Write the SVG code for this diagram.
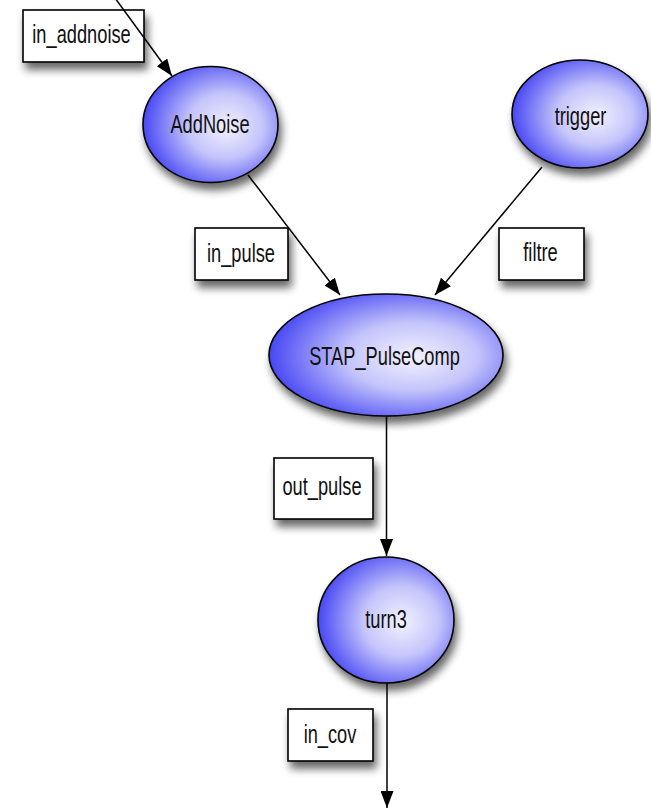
<svg xmlns="http://www.w3.org/2000/svg" width="651" height="809" viewBox="0 0 651 809">
  <defs>
    <radialGradient id="nodeFill" cx="0.6" cy="0.5" r="0.62" fx="0.62" fy="0.52">
      <stop offset="0" stop-color="#f2f2ff"/>
      <stop offset="0.45" stop-color="#c4c4fb"/>
      <stop offset="1" stop-color="#4040f4"/>
    </radialGradient>
    <filter id="shadow" x="-30%" y="-30%" width="160%" height="180%">
      <feGaussianBlur in="SourceAlpha" stdDeviation="4"/>
      <feOffset dx="3" dy="7" result="b"/>
      <feComponentTransfer><feFuncA type="linear" slope="0.6"/></feComponentTransfer>
      <feMerge><feMergeNode/><feMergeNode in="SourceGraphic"/></feMerge>
    </filter>
    <marker id="arrow" markerUnits="userSpaceOnUse" markerWidth="17" markerHeight="13" refX="17" refY="6.5" orient="auto">
      <path d="M0,0 L17,6.5 L0,13 z" fill="#000"/>
    </marker>
  </defs>
  <style>
    .node ellipse { fill: url(#nodeFill); stroke: #000; stroke-width: 1.6; filter: url(#shadow); }
    .port rect { fill: #fff; stroke: #000; stroke-width: 1.6; filter: url(#shadow); }
    text { font-family: "Liberation Sans", Arial, sans-serif; font-size: 25px; fill: #111; text-anchor: middle; }
    #connectors line { stroke: #000; stroke-width: 1.5; marker-end: url(#arrow); }
  </style>

  <!-- edge labels (ports) -->
  <g id="port-in_addnoise" class="port">
    <rect x="23" y="10" width="121" height="52"/>
    <text transform="translate(81.5,43) scale(0.73,1)">in_addnoise</text>
  </g>
  <g id="port-in_pulse" class="port">
    <rect x="195" y="228" width="93" height="52"/>
    <text transform="translate(241,262) scale(0.73,1)">in_pulse</text>
  </g>
  <g id="port-filtre" class="port">
    <rect x="499" y="228" width="85" height="52"/>
    <text transform="translate(540.5,261) scale(0.73,1)">filtre</text>
  </g>
  <g id="port-out_pulse" class="port">
    <rect x="274" y="458" width="99" height="61"/>
    <text transform="translate(322,495) scale(0.73,1)">out_pulse</text>
  </g>
  <g id="port-in_cov" class="port">
    <rect x="288" y="709" width="85" height="52"/>
    <text transform="translate(330,743) scale(0.73,1)">in_cov</text>
  </g>

  <!-- processing nodes -->
  <g id="node-AddNoise" class="node">
    <ellipse cx="210.5" cy="124.5" rx="67.5" ry="58"/>
    <text transform="translate(210,133) scale(0.73,1)">AddNoise</text>
  </g>
  <g id="node-trigger" class="node">
    <ellipse cx="580" cy="114" rx="68" ry="54"/>
    <text transform="translate(580.5,125) scale(0.73,1)">trigger</text>
  </g>
  <g id="node-STAP_PulseComp" class="node">
    <ellipse cx="386" cy="355" rx="117" ry="61"/>
    <text transform="translate(384.5,365) scale(0.73,1)">STAP_PulseComp</text>
  </g>
  <g id="node-turn3" class="node">
    <ellipse cx="386" cy="620" rx="68" ry="63"/>
    <text transform="translate(386,628) scale(0.73,1)">turn3</text>
  </g>

  <!-- connectors -->
  <g id="connectors">
    <line x1="115" y1="-2" x2="172" y2="76"/>
    <line x1="248" y1="175" x2="340" y2="295"/>
    <line x1="542" y1="167" x2="435" y2="295"/>
    <line x1="386.5" y1="416" x2="386.5" y2="556"/>
    <line x1="387" y1="683" x2="387" y2="808"/>
  </g>
</svg>
